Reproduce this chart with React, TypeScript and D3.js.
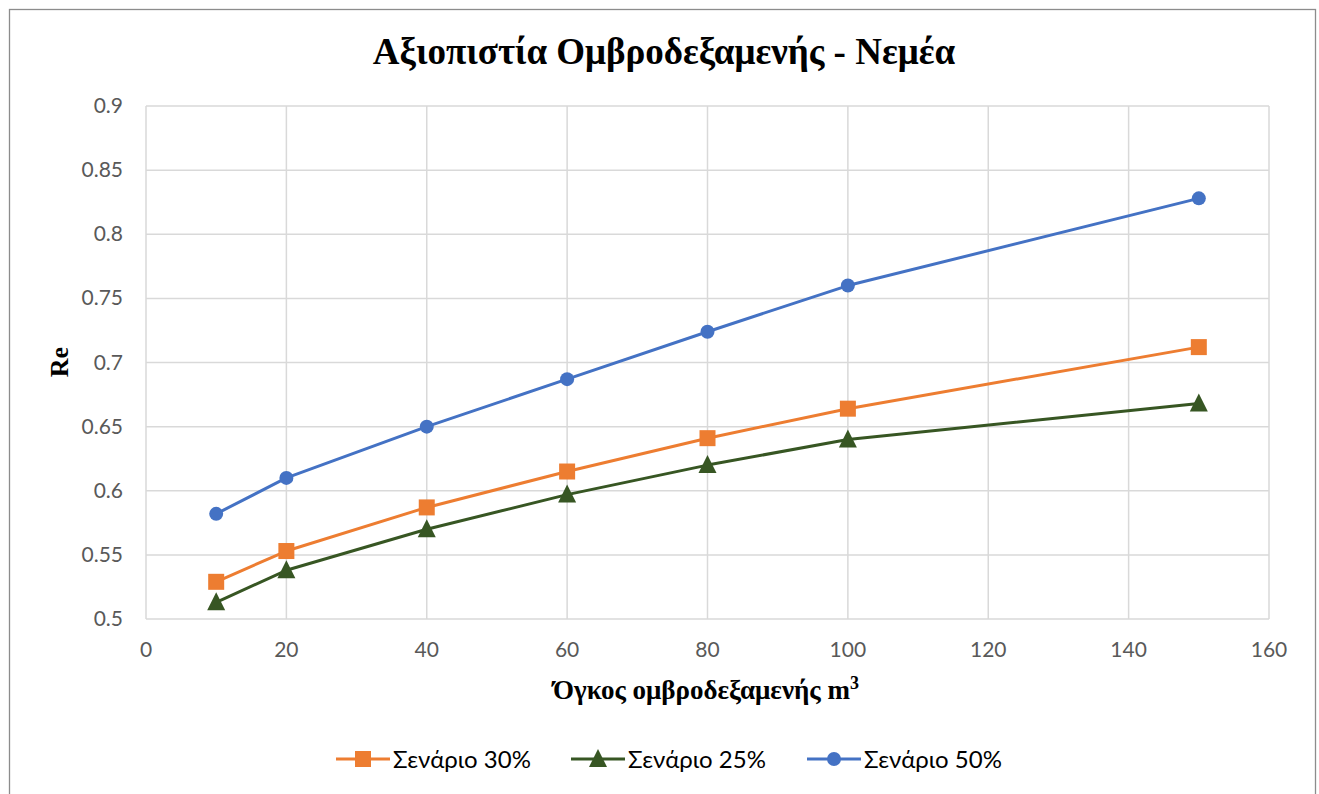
import React from "react";
import * as d3 from "d3";

// values
const volumes = [10, 20, 40, 60, 80, 100, 150];
const scenario30 = [0.529, 0.553, 0.587, 0.615, 0.641, 0.664, 0.712];
const scenario25 = [0.513, 0.538, 0.57, 0.597, 0.62, 0.64, 0.668];
const scenario50 = [0.582, 0.61, 0.65, 0.687, 0.724, 0.76, 0.828];
const xTicks = [0, 20, 40, 60, 80, 100, 120, 140, 160];
const yTicks = [0.5, 0.55, 0.6, 0.65, 0.7, 0.75, 0.8, 0.85, 0.9];
const seriesNames = ["Σενάριο 30%", "Σενάριο 25%", "Σενάριο 50%"];

const W = 1319, H = 794;
const serif = "'Liberation Serif', 'Times New Roman', serif";
const sans = "Lato, 'Open Sans', sans-serif";

const App: React.FC = () => {
  const x = d3.scaleLinear().domain([0, 160]).range([146, 1269]);
  const y = d3.scaleLinear().domain([0.5, 0.9]).range([619, 106]);
  const line = d3.line<number>()
    .x((_, i) => x(volumes[i]))
    .y(d => y(d));

  const series = [
    { name: seriesNames[0], data: scenario30, color: "#ED7D31", shape: "square" },
    { name: seriesNames[1], data: scenario25, color: "#375623", shape: "triangle" },
    { name: seriesNames[2], data: scenario50, color: "#4472C4", shape: "circle" },
  ];

  const marker = (shape: string, cx: number, cy: number, color: string, key: string | number) => {
    if (shape === "square") {
      return <rect key={key} x={cx - 8} y={cy - 8} width={16} height={16} fill={color} />;
    }
    if (shape === "circle") {
      return <circle key={key} cx={cx} cy={cy} r={7} fill={color} />;
    }
    return <path key={key} d={`M${cx},${cy - 10}L${cx + 9},${cy + 8}L${cx - 9},${cy + 8}Z`} fill={color} />;
  };

  const legendX = [336, 571, 807];

  return (
    <svg width={W} height={H} style={{ position: "absolute", left: 0, top: 0, background: "#fff" }}>
      <rect x={9.5} y={9.5} width={1306} height={800} fill="#fff" stroke="#8c8c8c" strokeWidth={1.3} />
      <text x={664} y={64} textAnchor="middle" fontFamily={serif} fontWeight="bold" fontSize={37}>
        Αξιοπιστία Ομβροδεξαμενής - Νεμέα
      </text>

      {/* grid */}
      {xTicks.map(t => (
        <line key={"gx" + t} x1={x(t)} x2={x(t)} y1={y(0.9)} y2={y(0.5)} stroke="#d9d9d9" strokeWidth={1.5} />
      ))}
      {yTicks.map(t => (
        <line key={"gy" + t} x1={x(0)} x2={x(160)} y1={y(t)} y2={y(t)} stroke="#d9d9d9" strokeWidth={1.5} />
      ))}

      {/* tick labels */}
      {yTicks.map(t => (
        <text key={"ty" + t} x={123} y={y(t) + 7} textAnchor="end" fontFamily={sans} fontSize={21} fill="#595959">
          {d3.format("")(+t.toFixed(2))}
        </text>
      ))}
      {xTicks.map(t => (
        <text key={"tx" + t} x={x(t)} y={657} textAnchor="middle" fontFamily={sans} fontSize={21} fill="#595959">
          {t}
        </text>
      ))}

      {/* axis titles */}
      <text transform="translate(68,362) rotate(-90)" textAnchor="middle" fontFamily={serif} fontWeight="bold" fontSize={26}>
        Re
      </text>
      <text x={706} y={699} textAnchor="middle" fontFamily={serif} fontWeight="bold" fontSize={27}>
        Όγκος ομβροδεξαμενής m<tspan dy={-10} fontSize={18}>3</tspan>
      </text>

      {/* series */}
      {series.map(s => (
        <g key={s.name}>
          <path d={line(s.data) || ""} fill="none" stroke={s.color} strokeWidth={3} strokeLinejoin="round" />
          {s.data.map((v, i) => marker(s.shape, x(volumes[i]), y(v), s.color, i))}
        </g>
      ))}

      {/* legend */}
      {series.map((s, i) => (
        <g key={"lg" + s.name}>
          <line x1={legendX[i]} x2={legendX[i] + 54} y1={759} y2={759} stroke={s.color} strokeWidth={3} />
          {marker(s.shape, legendX[i] + 27, 759, s.color, "m")}
          <text x={legendX[i] + 57} y={768} fontFamily={sans} fontSize={24} fill="#000">
            {s.name}
          </text>
        </g>
      ))}
    </svg>
  );
};

export default App;
